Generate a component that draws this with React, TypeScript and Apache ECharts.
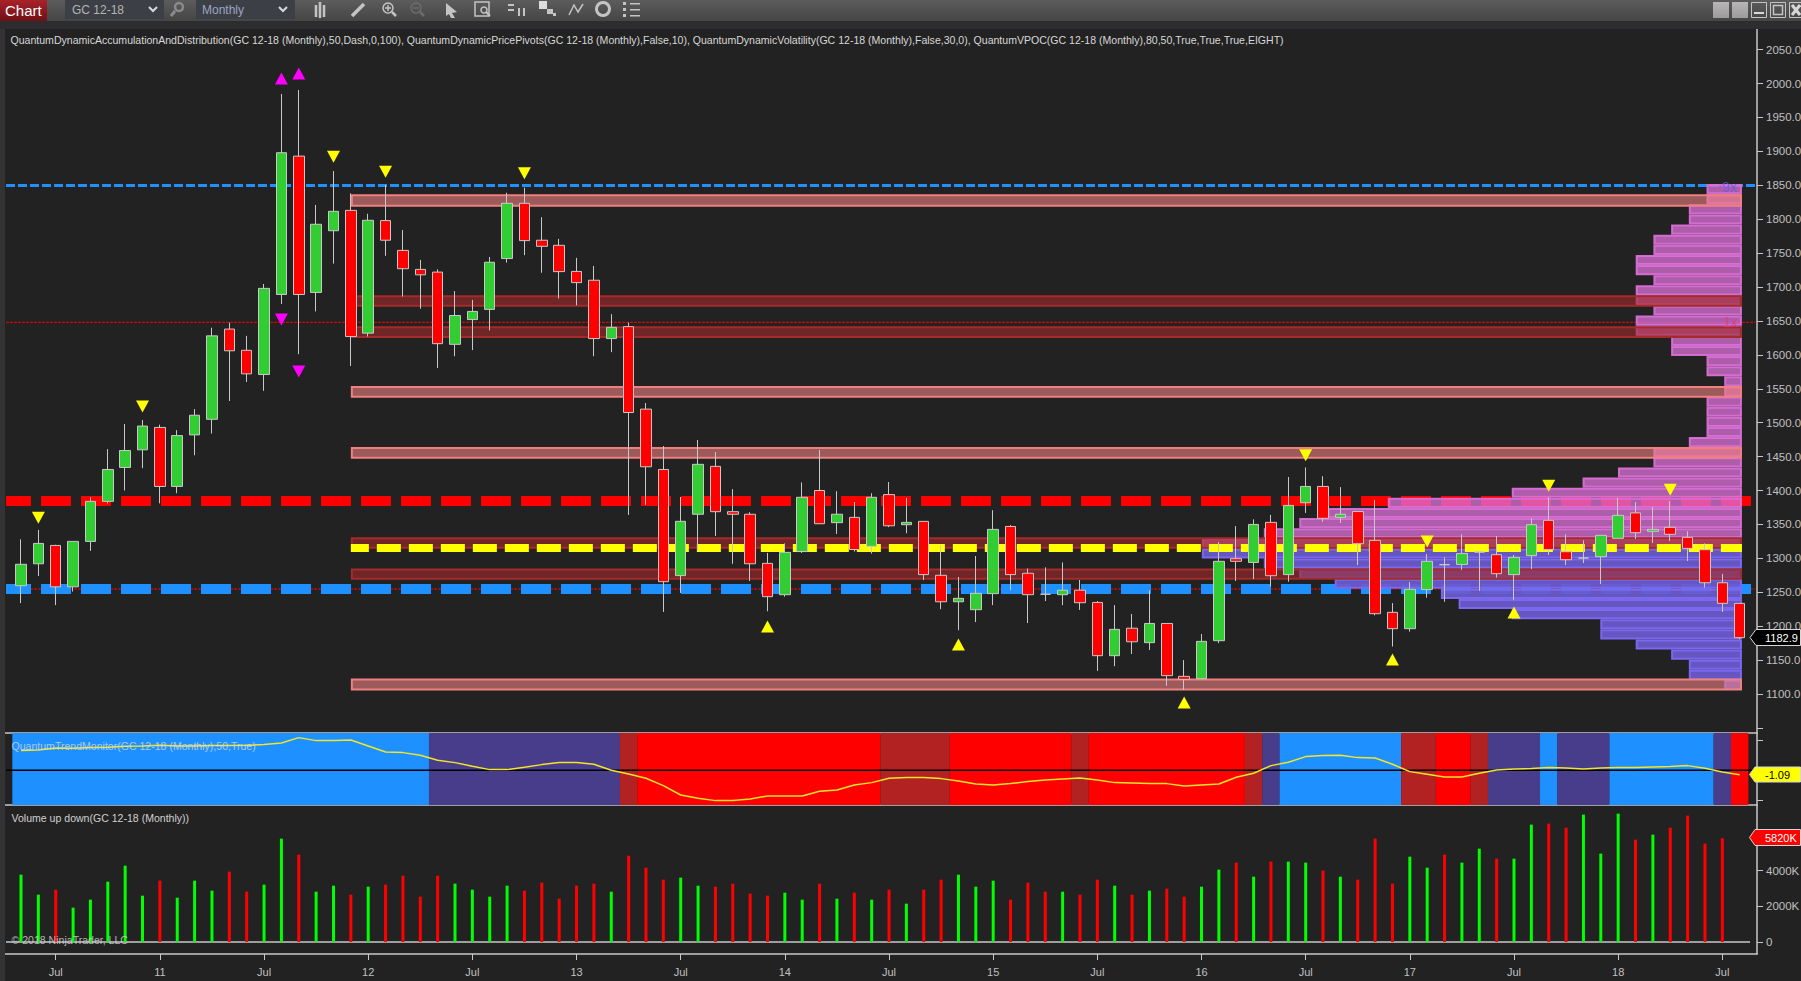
import React, { useEffect, useRef } from "react";
import * as echarts from "echarts";

// ---- candles (May 2010 .. Aug 2018, monthly) ----
const opens = [1259.7,1292,1319,1258,1325,1384,1434,1460,1493,1406,1482,1505,1638,1606.7,1571,1689,1893,1692,1783,1813,1632,1798,1754,1726,1722,1615.5,1652,1667,1742,1823.4,1769,1761.5,1723,1710,1624,1641.6,1520,1431,1274.5,1365,1435.6,1368.8,1365,1292.6,1246.4,1310,1400,1352.6,1360.4,1317.7,1394,1349.6,1354.5,1275,1236,1224.3,1248,1347,1278,1247,1246.4,1253,1235,1156.5,1197,1175.7,1204,1126,1122.6,1178.6,1299.5,1294,1353,1276,1382,1406,1360.4,1369,1326.5,1220.4,1196.3,1254,1290.6,1291,1309.3,1305.4,1276,1304,1356,1309.8,1300.5,1302.4,1329.5,1367,1339.8,1345.7,1331,1312.8,1264,1233.6];
const closes = [1291.2,1322,1258,1325,1384,1431,1459,1495,1406,1481,1511,1628,1606,1572,1698,1898,1689,1792.5,1811.6,1627,1798.4,1769,1727,1718,1616.5,1658,1664,1736.5,1823.4,1768.4,1760,1722.7,1706.5,1624,1640.6,1515,1435,1265.6,1354.6,1438.6,1368.8,1365,1292,1243.5,1308.8,1390,1351,1365,1313,1390,1348,1353,1276,1236,1241,1248.4,1342.7,1276,1246.4,1247,1253,1234.6,1156.5,1195.3,1177,1204,1127,1121.6,1177.6,1295.6,1295.6,1350,1274.4,1378,1406,1359,1365,1321.6,1218.4,1196.3,1254.3,1295.6,1290.6,1307,1309.3,1277.4,1301.5,1349.6,1313,1298,1300.5,1333.9,1363.4,1337.8,1342.7,1335.4,1314.7,1264,1233.6,1183];
const highs = [1328,1342,1320,1325,1390,1461,1498,1504,1497,1489,1520,1640,1647.5,1628,1704.5,1984.6,1990.5,1821,1871,1838,1808,1850.5,1784,1740,1726,1694,1681,1744.3,1839,1846.6,1803,1771,1743,1731,1660,1647.5,1529,1465.6,1390.5,1474.4,1456.7,1402,1368,1308,1322,1412,1459.7,1399,1383,1396,1412.5,1389,1354.5,1319,1272.5,1303.4,1371,1349,1285,1286.7,1294,1268,1237,1231,1218,1253,1204,1150,1188.4,1324,1347.6,1357.5,1364,1420,1434,1421,1405,1369,1386,1234,1265,1306.4,1301.5,1335.4,1309.3,1333,1305,1359,1390,1335.4,1326.5,1333.9,1389.4,1383,1375.7,1384.5,1340,1322,1277,1233.6];
const lows = [1234,1274,1231,1251,1311,1381,1400,1433,1381,1396,1452,1484,1532,1560,1547,1675,1601,1664,1734.5,1583.6,1627,1746,1686,1668,1580.6,1598,1607,1636,1736,1747,1721,1683,1673,1598,1604,1364,1379,1221,1249,1312,1333,1292,1266.6,1222,1243.5,1308,1351,1336,1310,1307,1346,1337,1268,1225,1194,1206,1231,1253,1204.6,1237,1231,1224,1134,1141,1159,1165,1112,1106,1122.6,1175,1266.6,1269.5,1258,1265.6,1367,1354,1352,1290,1216,1170,1192,1242,1236,1283,1252,1271.5,1238.5,1284,1305,1290,1293,1262,1329.5,1328.5,1322.6,1325.5,1296,1256.7,1221,1180.6];

// ---- pivot markers ----
const magentaUp = [[15, 2007.4], [16, 2014.8]];
const magentaDown = [[15, 1652], [16, 1575.5]];
const yellowDown = [[1, 1360], [7, 1524], [18, 1892], [21, 1870], [29, 1867.6], [74, 1452], [81, 1325], [88, 1407], [95, 1401]];
const yellowUp = [[43, 1199.5], [54, 1173], [67, 1087.5], [79, 1151], [86, 1220]];

// ---- accumulation / distribution zones [low, high] ----
const lightZones = [[1818.5, 1836.7], [1536.8, 1554], [1447, 1464], [1105, 1123]];
const darkZones = [[1671, 1687.8], [1625, 1642], [1314, 1331], [1268.5, 1285]];

// ---- levels ----
const redLevel = 1384.5;
const blueLevel = 1254.8;
const yellowLevel = 1315.3;
const thinBlueLevel = 1849.6;
const thinRedLevels = [1648, 1254.8];

// ---- volume profile, one row per price bin from the top ----
const profileTop = 1851.8;
const profileStep = 14.92;
const profileCounts = [2,2,3,3,4,5,5,6,6,5,6,6,5,6,6,4,4,2,2,1,1,2,2,2,2,3,5,5,7,9,13,20,23.4,25,27,30.5,30.5,27,25,23,17,16,13,8,8,6,4,3,3,1];
const profileUpperRows = 36;

// ---- trend monitor ----
const trendValues = [4.92,5.08,5.58,5.5,5.67,5.75,6,6.08,6.25,6.08,6.08,6.17,6.17,6.25,6.42,6.83,8.17,7.42,7.42,7.58,6.08,4.58,4.42,3.75,2.5,1.92,1,0.17,0.17,0.75,1.42,1.92,1.92,1.5,0,-0.92,-2,-3.83,-6.17,-7,-7.58,-7.58,-7.17,-6.42,-6.42,-6.42,-5.25,-4.92,-3.67,-3.08,-2,-1.83,-1.83,-2.08,-2.67,-3.42,-3.67,-3.33,-2.83,-2.42,-2.17,-1.92,-2.42,-3.08,-3.17,-3.33,-3.33,-3.92,-3.67,-3.42,-1.75,-0.75,1.17,2,3.42,3.67,3.75,3.17,3.08,1.5,-0.33,-1,-1.67,-1.67,-0.75,0.08,0.33,0.42,0.67,0.58,0.33,0.58,0.67,0.67,0.83,0.92,1.17,0.5,-0.42,-1.09];
const trendRunLengths = [24,11,1,14,4,7,1,9,1,1,7,2,2,1,3,1,3,6,1,1];
const trendRunColors = ["#1e90ff","#483d8b","#b22222","#ff0000","#b22222","#ff0000","#b22222","#ff0000","#b22222","#483d8b","#1e90ff","#b22222","#ff0000","#b22222","#483d8b","#1e90ff","#483d8b","#1e90ff","#483d8b","#ff0000"];

// ---- volume (thousands) ----
const volumeValues = [3777,2655,2936,1926,2375,3385,4282,2599,3441,2487,3441,2880,3946,2824,3216,5797,4899,2824,3160,2655,3104,3216,3721,2543,3721,3273,2936,2543,3160,2880,3329,2431,3160,3273,2824,4843,4170,3497,3609,3160,3104,3273,2712,2599,2768,2375,3273,2431,2768,2375,2936,2151,2936,3497,3777,3104,3441,2375,3329,2824,2824,2655,3497,3160,2655,2880,2992,2543,3104,4058,4451,3665,4507,4507,4451,4002,3665,3497,5797,3273,4787,4170,4899,4451,5236,4675,4675,6582,6639,6414,7143,4956,7200,5741,6021,6414,7087,5517,5820];
const volumeSides = "GGRGGGGGRGGGRRGGRGGRGRRRRGGGGRRRRRGRRRGGRRRRGGRGRGRGRRGGGRRRGRRGRGRRGGRGRGGRGRRRGGRGGRGGRRGGGRGRRRR";

// ---- axis labels ----
const xTickIndexes = [2,8,14,20,26,32,38,44,50,56,62,68,74,80,86,92,98];
const xTickLabels = ["Jul","11","Jul","12","Jul","13","Jul","14","Jul","15","Jul","16","Jul","17","Jul","18","Jul"];
const priceTicks = [1050,1100,1150,1200,1250,1300,1350,1400,1450,1500,1550,1600,1650,1700,1750,1800,1850,1900,1950,2000,2050];
const priceLabels = priceTicks.slice(1);
const volumeTicks = [0, 2000, 4000];

const titleText = "QuantumDynamicAccumulationAndDistribution(GC 12-18 (Monthly),50,Dash,0,100), QuantumDynamicPricePivots(GC 12-18 (Monthly),False,10), QuantumDynamicVolatility(GC 12-18 (Monthly),False,30,0), QuantumVPOC(GC 12-18 (Monthly),80,50,True,True,True,EIGHT)";

const FONT = '"Liberation Sans", Arial, sans-serif';
const BG = "#222222";
const AXIS = "#c8c8c8";
const X_MIN = -1;
const X_MAX = 100;
const ZONE_START = 19;
const RIGHT_EDGE = 99.13;
const PROFILE_UNIT = 1.02;

function text(x: number, y: number, s: string, size: number, fill: string, extra: any = {}) {
  return {
    type: "text", x, y, z: 30, silent: true,
    style: { text: s, fill, font: `${size}px ${FONT}`, verticalAlign: "middle", align: "left", ...extra },
  };
}
function rect(x: number, y: number, w: number, h: number, fill: any, extra: any = {}) {
  return { type: "rect", z: 20, silent: true, shape: { x, y, width: w, height: h }, style: { fill, ...extra } };
}
function line(x1: number, y1: number, x2: number, y2: number, stroke: string, w = 1.5) {
  return { type: "line", z: 25, silent: true, shape: { x1, y1, x2, y2 }, style: { stroke, lineWidth: w } };
}
function poly(pts: number[][], stroke: string, w = 1.5) {
  return { type: "polyline", z: 25, silent: true, shape: { points: pts }, style: { stroke, lineWidth: w, fill: "none" } };
}
function polygon(pts: number[][], fill: string, stroke?: string) {
  return { type: "polygon", z: 25, silent: true, shape: { points: pts }, style: { fill, stroke, lineWidth: 1 } };
}
function circle(cx: number, cy: number, r: number, stroke: string, w = 1.5) {
  return { type: "circle", z: 25, silent: true, shape: { cx, cy, r }, style: { stroke, lineWidth: w, fill: "none" } };
}
const grad = (a: string, b: string) => new echarts.graphic.LinearGradient(0, 0, 0, 1, [{ offset: 0, color: a }, { offset: 1, color: b }]);

function toolbar(): any[] {
  const ic = "#c4c4c4";
  const dim = "#6c6c6c";
  const els: any[] = [
    rect(0, 0, 1801, 21, grad("#5c5c5c", "#454545")),
    rect(0, 21, 1801, 8, "#2d2d30"),
    rect(0, 29, 5, 952, "#333336"),
    rect(0, 0, 47, 21, grad("#a8222a", "#701015")),
    text(5, 10, "Chart", 15, "#ffffff"),
    rect(65, 0, 99, 19, "#3d3f46"),
    text(72, 10, "GC 12-18", 12, "#b4b4b4"),
    poly([[149, 7], [153, 11], [157, 7]], "#d8d8d8", 2),
    circle(179, 7, 4, "#8a8a8a", 2.5),
    line(175, 11, 171, 16, "#8a8a8a", 3),
    rect(196, 0, 99, 19, "#3d3f46"),
    text(202, 10, "Monthly", 12, "#9aa6c4"),
    poly([[279, 7], [283, 11], [287, 7]], "#d8d8d8", 2),
    line(316, 5, 316, 17, ic, 2.5), line(320, 2, 320, 18, ic, 2.5), line(324, 5, 324, 17, ic, 2.5),
    line(352, 16, 364, 4, ic, 3.5),
    circle(388, 8, 5, ic), line(385, 8, 391, 8, ic), line(388, 5, 388, 11, ic), line(392, 12, 396, 16, ic, 2.5),
    circle(416, 8, 5, dim), line(413, 8, 419, 8, dim), line(420, 12, 424, 16, dim, 2.5),
    polygon([[446, 3], [457, 12], [452, 13], [455, 18], [451, 18], [449, 14], [446, 16]], ic),
    { type: "rect", z: 25, silent: true, shape: { x: 475, y: 2, width: 14, height: 14 }, style: { stroke: ic, lineWidth: 1.5, fill: "none" } },
    circle(484, 10, 3, ic, 1.5), line(486, 12, 490, 16, ic, 2),
    rect(508, 4, 6, 2, ic, { }), rect(508, 9, 6, 2, ic, {}), rect(518, 8, 2, 8, ic, {}), rect(523, 8, 2, 8, ic, {}),
    rect(539, 1, 8, 8, "#dddddd"), rect(547, 9, 6, 5, ic), rect(553, 13, 3, 3, ic),
    poly([[569, 15], [574, 5], [578, 12], [583, 4]], ic, 1.5),
    { type: "ring", z: 25, silent: true, shape: { cx: 603, cy: 9, r: 8, r0: 5 }, style: { fill: ic } },
    rect(623, 2, 3, 3, ic), rect(623, 8, 3, 3, ic), rect(623, 14, 3, 3, ic),
    rect(630, 3, 10, 1.5, ic), rect(630, 9, 10, 1.5, ic), rect(630, 15, 10, 1.5, ic),
    rect(1713, 2, 16, 16, grad("#b8b6b6", "#9c9a9a")),
    rect(1732, 2, 16, 16, grad("#b8b6b6", "#9c9a9a")),
    { type: "rect", z: 25, silent: true, shape: { x: 1751.5, y: 2.5, width: 15, height: 15 }, style: { stroke: "#c4c4c4", lineWidth: 1, fill: "none" } },
    line(1754, 13, 1764, 13, "#d8d8d8", 2),
    { type: "rect", z: 25, silent: true, shape: { x: 1770.5, y: 2.5, width: 15, height: 15 }, style: { stroke: "#c4c4c4", lineWidth: 1, fill: "none" } },
    { type: "rect", z: 25, silent: true, shape: { x: 1773.5, y: 5.5, width: 9, height: 9 }, style: { stroke: "#c4c4c4", lineWidth: 1.5, fill: "none" } },
    { type: "rect", z: 25, silent: true, shape: { x: 1789.5, y: 2.5, width: 15, height: 15 }, style: { stroke: "#c4c4c4", lineWidth: 1, fill: "none" } },
    line(1792, 5, 1800, 15, "#d8d8d8", 3), line(1800, 5, 1792, 15, "#d8d8d8", 3),
  ];
  return els;
}

function overlays(): any[] {
  return [
    text(10.5, 40, titleText, 10.55, "#d8d8d8"),
    text(11.5, 745.5, "QuantumTrendMonitor(GC 12-18 (Monthly),50,True)", 10.55, "rgba(225,225,225,0.72)"),
    text(11.5, 817.5, "Volume up down(GC 12-18 (Monthly))", 10.55, "#d0d0d0"),
    text(11.5, 940, "\u00a9 2018 NinjaTrader, LLC", 10.55, "rgba(215,215,215,0.8)"),
    text(1722, 187, "9x", 14, "rgba(95,95,225,0.75)"),
    text(1723, 322, "1x", 14, "rgba(220,60,130,0.85)"),
    polygon([[1750, 637.5], [1756, 629.5], [1800.5, 629.5], [1800.5, 645.5], [1756, 645.5]], "#000000", "#d8d8d8"),
    text(1765, 638, "1182.9", 11, "#ffffff"),
    polygon([[1749.5, 774.5], [1755, 767], [1800.5, 767], [1800.5, 782], [1755, 782]], "#ffff00", "#d8d8d8"),
    text(1765, 775, "-1.09", 11, "#000000"),
    polygon([[1749.5, 837.5], [1755, 829.5], [1800.5, 829.5], [1800.5, 845.5], [1755, 845.5]], "#ff0000", "#d8d8d8"),
    text(1765, 838, "5820K", 11, "#ffffff"),
  ];
}

function bandRender(lineW: number) {
  return (params: any, api: any) => {
    const x0 = api.value(0), x1 = api.value(1), y0 = api.value(2), y1 = api.value(3);
    const a = api.coord([x0, y1]);
    const b = api.coord([x1, y0]);
    const ins = lineW / 2;
    return {
      type: "rect",
      shape: { x: a[0] + ins, y: a[1] + ins, width: b[0] - a[0] - lineW, height: b[1] - a[1] - lineW },
      style: { fill: api.value(4) as any, stroke: api.value(5) as any, lineWidth: lineW },
    };
  };
}
const bandDims = [
  { name: "x0", type: "float" }, { name: "x1", type: "float" }, { name: "y0", type: "float" }, { name: "y1", type: "float" },
  { name: "fill", type: "ordinal" }, { name: "stroke", type: "ordinal" },
];

function levelLine(y: number, color: string, width: number, dash: any, from: number, to: number, z: number, offset = 0) {
  return {
    type: "line", xAxisIndex: 0, yAxisIndex: 0, z, silent: true, symbol: "none",
    data: [[from, y], [to, y]],
    lineStyle: { color, width, type: dash, dashOffset: offset, cap: "butt" },
  };
}

function buildOption(): any {
  const profileData = profileCounts.map((c, k) => [
    RIGHT_EDGE - c * PROFILE_UNIT, RIGHT_EDGE,
    profileTop - (k + 1) * profileStep, profileTop - k * profileStep,
    k < profileUpperRows ? "rgba(218,112,214,0.76)" : "rgba(106,90,205,0.93)",
    k < profileUpperRows ? "rgba(218,112,214,0.95)" : "#7b68ee",
  ]);
  const zoneData = [
    ...lightZones.map((z) => [ZONE_START, RIGHT_EDGE, z[0], z[1], "rgba(240,128,128,0.6)", "#f08080"]),
    ...darkZones.map((z) => [ZONE_START, RIGHT_EDGE, z[0], z[1], "rgba(165,42,42,0.6)", "#a52a2a"]),
  ];
  let start = 0;
  const trendData = trendRunLengths.map((n, k) => {
    const row = [start - 0.5, start + n - 0.5, -8.675, 9.325, trendRunColors[k], trendRunColors[k]];
    start += n;
    return row;
  });
  const candleData = opens.map((o, i) => [i, o, closes[i], lows[i], highs[i]]);
  const tri = (data: number[][], color: string, rotate: number) => ({
    type: "scatter", xAxisIndex: 0, yAxisIndex: 0, z: 8, silent: true,
    symbol: "triangle", symbolSize: [13, 12], symbolRotate: rotate, data,
    itemStyle: { color, opacity: 1 },
  });
  const xBase = { type: "value", min: X_MIN, max: X_MAX, splitLine: { show: false }, axisPointer: { show: false } };
  const xQuiet = { ...xBase, axisTick: { show: false }, axisLabel: { show: false }, axisLine: { show: true, onZero: false, lineStyle: { color: AXIS, width: 1.5 } } };
  const yBase = (gridIndex: number, min: number, max: number) => ({
    type: "value", gridIndex, position: "right", min, max, scale: true, splitLine: { show: false },
    axisLine: { show: true, onZero: false, lineStyle: { color: AXIS, width: 1.5 } },
  });
  const gridBase = { left: 3.64, width: 1753.4, outerBoundsMode: "none", containLabel: false };
  return {
    animation: false,
    backgroundColor: BG,
    textStyle: { fontFamily: FONT },
    tooltip: { show: false },
    grid: [
      { ...gridBase, top: 29, height: 704 },
      { ...gridBase, top: 733, height: 72 },
      { ...gridBase, top: 805, height: 149 },
    ],
    xAxis: [
      { ...xQuiet, gridIndex: 0 },
      { ...xQuiet, gridIndex: 1 },
      {
        ...xBase, gridIndex: 2,
        axisLine: { show: true, onZero: false, lineStyle: { color: AXIS, width: 1.5 } },
        axisTick: { show: true, length: 6, customValues: xTickIndexes, lineStyle: { color: AXIS, width: 1 } },
        axisLabel: {
          show: true, customValues: xTickIndexes, margin: 12, fontSize: 11, fontFamily: FONT, color: "#c0c0c0",
          formatter: (v: number) => xTickLabels[xTickIndexes.indexOf(v)] ?? "",
        },
      },
    ],
    yAxis: [
      {
        ...yBase(0, 1042.5, 2080.4),
        axisTick: { show: true, length: 6, customValues: priceTicks, lineStyle: { color: AXIS, width: 1 } },
        axisLabel: { show: true, customValues: priceLabels, margin: 9, fontSize: 11.5, fontFamily: FONT, color: "#c0c0c0", formatter: (v: number) => v.toFixed(1) },
      },
      {
        ...yBase(1, -8.675, 9.325),
        axisTick: { show: true, length: 6, customValues: [-7.5, 7.5], lineStyle: { color: AXIS, width: 1 } },
        axisLabel: { show: false },
      },
      {
        ...yBase(2, -673, 7684),
        axisTick: { show: true, length: 6, customValues: volumeTicks, lineStyle: { color: AXIS, width: 1 } },
        axisLabel: { show: true, customValues: volumeTicks, margin: 9, fontSize: 11.5, fontFamily: FONT, color: "#c0c0c0", formatter: (v: number) => (v === 0 ? "0" : `${v}K`) },
      },
    ],
    series: [
      levelLine(redLevel, "#ff0000", 10, [30, 10], -0.864, 99.7, 2, 5),
      levelLine(blueLevel, "#1e90ff", 10, [30, 10], -0.864, 99.7, 2, 5),
      levelLine(thinBlueLevel, "#1e90ff", 3, [9, 3], -0.864, 99.9, 2),
      levelLine(thinRedLevels[0], "#ff0000", 1, [3, 1], -0.864, 99.9, 2),
      levelLine(thinRedLevels[1], "#ff0000", 1, [3, 1], -0.864, 99.9, 1),
      { type: "custom", xAxisIndex: 0, yAxisIndex: 0, z: 3, silent: true, renderItem: bandRender(2), dimensions: bandDims, data: profileData, encode: { x: [0, 1], y: [2, 3] } },
      { type: "custom", xAxisIndex: 0, yAxisIndex: 0, z: 4, silent: true, renderItem: bandRender(2), dimensions: bandDims, data: zoneData, encode: { x: [0, 1], y: [2, 3] } },
      levelLine(yellowLevel, "#ffff00", 8, [24, 8], ZONE_START, RIGHT_EDGE, 5, 6),
      {
        type: "candlestick", xAxisIndex: 0, yAxisIndex: 0, z: 6, silent: true, barWidth: 11,
        data: candleData, encode: { x: 0, y: [1, 2, 3, 4] },
        itemStyle: { color: "#32cd32", color0: "#ff0000", borderColor: "#c8c8c8", borderColor0: "#c8c8c8", borderWidth: 1 },
      },
      tri(magentaUp, "#ff00ff", 0),
      tri(magentaDown, "#ff00ff", 180),
      tri(yellowUp, "#ffff00", 0),
      tri(yellowDown, "#ffff00", 180),
      { type: "custom", xAxisIndex: 1, yAxisIndex: 1, z: 2, silent: true, renderItem: bandRender(0), dimensions: bandDims, data: trendData, encode: { x: [0, 1], y: [2, 3] } },
      {
        type: "line", xAxisIndex: 1, yAxisIndex: 1, z: 3, silent: true, symbol: "none",
        data: [[-0.864, 0], [99.9, 0]], lineStyle: { color: "#000000", width: 1.5 },
      },
      {
        type: "line", xAxisIndex: 1, yAxisIndex: 1, z: 4, silent: true, symbol: "none",
        data: trendValues.map((v, i) => [i, v]), lineStyle: { color: "#f2e52a", width: 1.5 },
      },
      {
        type: "line", xAxisIndex: 2, yAxisIndex: 2, z: 2, silent: true, symbol: "none",
        data: [[-0.864, 0], [99.6, 0]], lineStyle: { color: AXIS, width: 1.5 },
      },
      {
        type: "bar", xAxisIndex: 2, yAxisIndex: 2, z: 3, silent: true, barWidth: 3,
        data: volumeValues.map((v, i) => ({
          value: [i, v],
          itemStyle: { color: volumeSides[i] === "G" ? "#00ff00" : "#ff0000" },
        })),
      },
    ],
    graphic: { elements: [...toolbar(), ...overlays()] },
  };
}

export default function App() {
  const ref = useRef<HTMLDivElement | null>(null);
  useEffect(() => {
    document.body.style.margin = "0";
    document.body.style.overflow = "hidden";
    document.body.style.background = BG;
    const chart = echarts.init(ref.current!, undefined, { renderer: "svg" });
    chart.setOption(buildOption());
    return () => chart.dispose();
  }, []);
  return <div ref={ref} style={{ width: 1801, height: 981 }} />;
}
